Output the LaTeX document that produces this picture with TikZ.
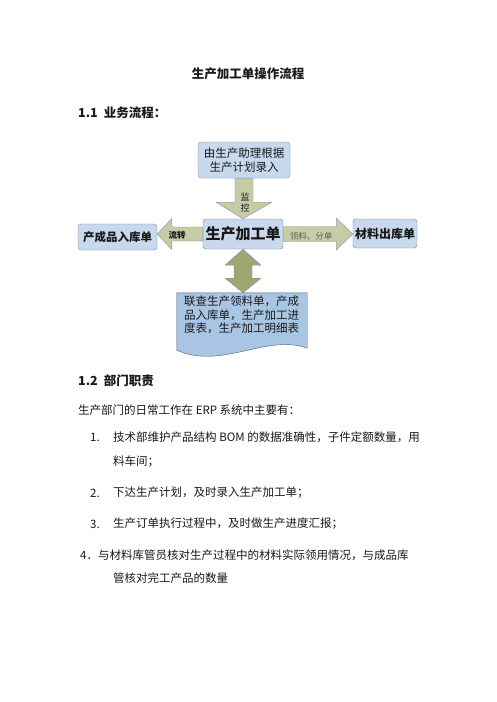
\documentclass[tikz,border=0pt]{standalone}
\usepackage{fontspec}
\setmainfont{Noto Sans CJK SC}
\usetikzlibrary{positioning, calc}
\definecolor{clrBox} {RGB}{200,217,238}
\definecolor{clrLine}{RGB}{122,134,152}
\definecolor{clrArr} {RGB}{198,204,164}
\definecolor{clrArrD}{RGB}{160,166,112}
\definecolor{clrDoc} {RGB}{168,198,228}
\definecolor{clrTxt} {RGB}{ 25, 25, 25}

\begin{document}
\begin{tikzpicture}[x=1pt, y=-1pt,
  %% -- node styles --
  box/.style  = {rectangle, rounded corners=3pt, draw=clrLine, fill=clrBox,
                 inner sep=2pt, align=center, text=clrTxt},
  head/.style = {anchor=west, inner sep=0pt, text=clrTxt,
                 font=\bfseries\fontsize{12.5}{15}\selectfont},
  body/.style = {anchor=west, inner sep=0pt, text=clrTxt,
                 font=\fontsize{11.5}{14}\selectfont},
  %% -- block arrows and labels --
  blk/.style  = {draw=clrLine!90, fill=clrArr, line join=round},
  lab/.style  = {inner sep=0pt, align=center, text=clrTxt,
                 font=\fontsize{8.5}{11}\selectfont},
]
\useasboundingbox[fill=white] (0,0) rectangle (496,702);

%% title and first heading
\node[head, anchor=center] (title) at (248,74) {生产加工单操作流程};
\node[head] (sec1) at (78,113) {1.1\hspace{6pt}业务流程：};

%% flow boxes
\node[box, minimum width=92pt, minimum height=36pt,
      font=\fontsize{11.5}{13.5}\selectfont] (plan) at (244,160)
      {由生产助理根据\\生产计划录入};
\node[box, minimum width=80pt, minimum height=30pt,
      font=\bfseries\fontsize{15}{17}\selectfont] (order) at (243,234) {生产加工单};
\node[box, minimum width=79pt, minimum height=26pt,
      font=\bfseries\fontsize{11.5}{13}\selectfont] (stock) at (117.5,237) {产成品入库单};
\node[box, minimum width=64pt, minimum height=29pt,
      font=\bfseries\fontsize{12}{14}\selectfont] (issue) at (385,233.5) {材料出库单};
\node[minimum width=130pt, minimum height=52pt, inner sep=0pt] (doc) at (242,319) {};

%% down arrow: plan -> order
\draw[blk] ($(plan.south)+(-9,0)$) -- ($(plan.south)+(9,0)$)
  -- ($(plan.south)+(9,24)$) -- ($(plan.south)+(28,24)$) -- (order.north)
  -- ($(plan.south)+(-28,24)$) -- ($(plan.south)+(-9,24)$) -- cycle;
\node[lab, font=\fontsize{9}{11}\selectfont] (ctl) at (245,202.5) {监\\控};

%% left arrow: order -> stock
\draw[blk] ($(order.west)+(0,-7)$) -- ($(order.west)+(0,7)$)
  -- ($(order.west)+(-31,7)$) -- ($(order.west)+(-31,15.5)$)
  -- (stock.east |- order.west)
  -- ($(order.west)+(-31,-15.5)$) -- ($(order.west)+(-31,-7)$) -- cycle;
\node[lab, font=\bfseries\fontsize{8.5}{11}\selectfont] (flow) at (177,235) {流转};

%% right arrow: order -> issue
\draw[blk] ($(order.east)+(0,-7.5)$) -- ($(order.east)+(0,7.5)$)
  -- ($(order.east)+(53,7.5)$) -- ($(order.east)+(53,16)$)
  -- (issue.west |- order.east)
  -- ($(order.east)+(53,-16)$) -- ($(order.east)+(53,-7.5)$) -- cycle;
\node[lab, text=clrTxt!70] (pick) at (311,236) {领料、分单};

%% double arrow: order <-> doc
\draw[blk, fill=clrArrD] (order.south) -- ($(order.south)+(18,16)$)
  -- ($(order.south)+(9,16)$) -- ($(order.south)+(9,29)$)
  -- ($(order.south)+(18,29)$) -- (order.south |- doc.north)
  -- ($(order.south)+(-18,29)$) -- ($(order.south)+(-9,29)$)
  -- ($(order.south)+(-9,16)$) -- ($(order.south)+(-18,16)$) -- cycle;

%% document shape with wavy bottom
\draw[draw=clrLine!70!black, fill=clrDoc] (doc.north west) -- (doc.north east)
  -- ($(doc.south east)+(0,3)$)
  .. controls ($(doc.south east)+(-40,-12)$) and ($(doc.south west)+(45,25)$)
  .. ($(doc.south west)+(0,5)$) -- cycle;
\node[anchor=north west, inner sep=0pt, align=left, text=clrTxt,
      font=\fontsize{11.5}{13.5}\selectfont] (doctxt) at (184,296)
      {联查生产领料单，产成\\品入库单，生产加工进\\度表，生产加工明细表};

%% second heading and duties
\node[head] (sec2) at (78,381) {1.2\hspace{6pt}部门职责};
\node[body] (intro) at (78,410) {生产部门的日常工作在 ERP 系统中主要有：};
\node[body] (n1)  at (90,437) {1.};
\node[body] (t1)  at (113,437) {技术部维护产品结构 BOM 的数据准确性，子件定额数量，用};
\node[body] (t1b) at (113,462) {料车间；};
\node[body] (n2)  at (90,493) {2.};
\node[body] (t2)  at (113,493) {下达生产计划，及时录入生产加工单；};
\node[body] (n3)  at (90,524) {3.};
\node[body] (t3)  at (113,524) {生产订单执行过程中，及时做生产进度汇报；};
\node[body] (t4)  at (80,555) {4．与材料库管员核对生产过程中的材料实际领用情况，与成品库};
\node[body] (t4b) at (113,578) {管核对完工产品的数量};
\end{tikzpicture}
\end{document}
